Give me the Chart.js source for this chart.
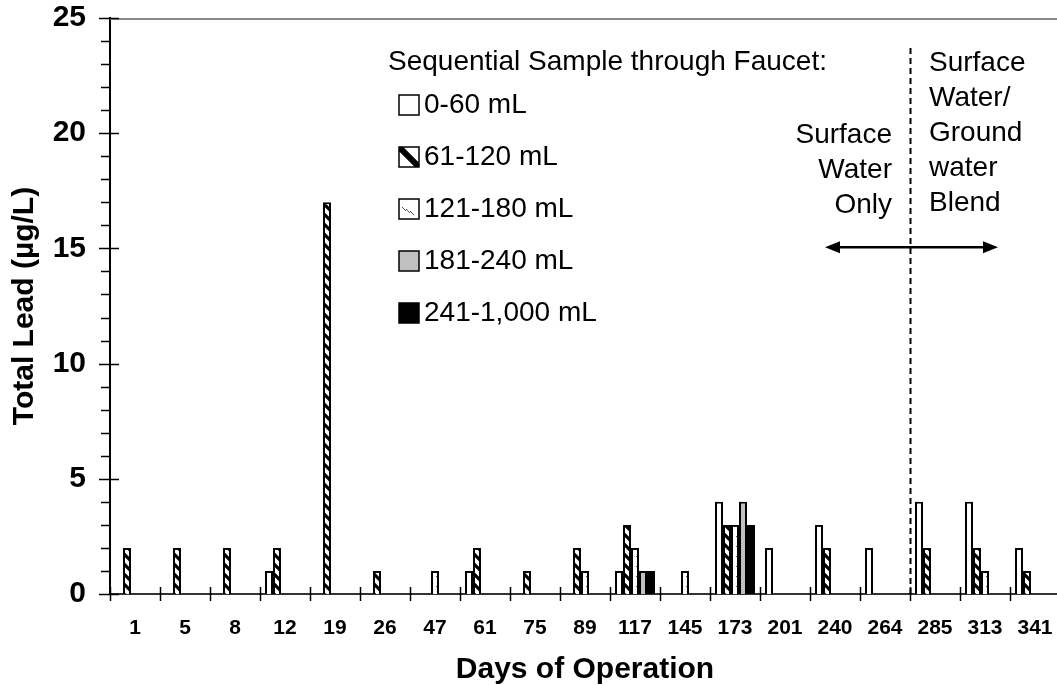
<!DOCTYPE html>
<html>
<head>
<meta charset="utf-8">
<title>Total Lead by Days of Operation</title>
<script src="https://cdn.jsdelivr.net/npm/chart.js@4.4.1/dist/chart.umd.min.js"></script>
<style>
  body { margin: 0; background: #fff; overflow: hidden; }
  #wrap { width: 1057px; height: 685px; overflow: hidden; }
</style>
</head>
<body>
<div id="wrap"><canvas id="lead-chart" width="1080" height="685"></canvas></div>
<script>
// Days of operation (categories)
const days = ['1', '5', '8', '12', '19', '26', '47', '61', '75', '89', '117', '145', '173', '201', '240', '264', '285', '313', '341'];

// Total lead (ug/L) per sequential sample volume, null = no bar
const lead0to60 =    [null, null, null, 1, null, null, null, 1, null, null, 1, null, 4, 2, 3, 2, 4, 4, 2];
const lead61to120 =  [2, 2, 2, 2, 17, 1, null, 2, 1, 2, 3, null, 3, null, 2, null, 2, 2, 1];
const lead121to180 = [null, null, null, null, null, null, 1, null, null, 1, 2, 1, 3, null, null, null, null, 1, null];
const lead181to240 = [null, null, null, null, null, null, null, null, null, null, 1, null, 4, null, null, null, null, null, null];
const lead241to1000 = [null, null, null, null, null, null, null, null, null, null, 1, null, 3, null, null, null, null, null, null];

const seriesNames = ['0-60 mL', '61-120 mL', '121-180 mL', '181-240 mL', '241-1,000 mL'];
const yTicks = [0, 5, 10, 15, 20, 25];

const FONT = "'Liberation Sans', Arial, sans-serif";
const canvas = document.getElementById('lead-chart');
const ctx = canvas.getContext('2d');

// small repeating fills that look like the excel hatch patterns
function makePattern(kind, size) {
    const c = document.createElement('canvas');
    c.width = size;
    c.height = size;
    const g = c.getContext('2d');
    g.fillStyle = '#fff';
    g.fillRect(0, 0, size, size);
    if (kind === 'bold') {
        g.strokeStyle = '#000';
        g.lineWidth = size * 0.32;
        g.beginPath();
        g.moveTo(-3, -3); g.lineTo(size + 3, size + 3);
        g.moveTo(-3, size - 3); g.lineTo(3, size + 3);
        g.moveTo(size - 3, -3); g.lineTo(size + 3, 3);
        g.stroke();
    } else if (kind === 'dots') {
        g.fillStyle = '#555';
        const h = size / 2;
        g.fillRect(1, 1, 1, 1);
        g.fillRect(2, 2, 1, 1);
        g.fillRect(h + 1, h + 1, 1, 1);
        g.fillRect(h + 2, h + 2, 1, 1);
    }
    return ctx.createPattern(c, 'repeat');
}

const fills = ['#ffffff', makePattern('bold', 10), makePattern('dots', 10), '#c0c0c0', '#000000'];
const seriesData = [lead0to60, lead61to120, lead121to180, lead181to240, lead241to1000];

// legend keys are bigger, excel shows one wide stripe there
function drawKey(c, i, kx, ky, size) {
    c.fillStyle = i === 1 || i === 2 ? '#fff' : fills[i];
    c.fillRect(kx, ky, size, size);
    if (i === 1) {
        c.save();
        c.beginPath();
        c.rect(kx, ky, size, size);
        c.clip();
        c.strokeStyle = '#000';
        c.lineWidth = 6;
        c.beginPath();
        c.moveTo(kx, ky);
        c.lineTo(kx + size, ky + size);
        c.stroke();
        c.restore();
    } else if (i === 2) {
        c.fillStyle = '#555';
        for (let d = 0; d < 3; d++) {
            for (let k = 0; k < 4; k++) {
                c.fillRect(kx + 3 + d * 4 + k, ky + 8 + k + d * 2, 1, 1);
            }
        }
    }
    c.strokeStyle = '#000';
    c.lineWidth = 1.5;
    c.strokeRect(kx, ky, size, size);
}

// tick marks, top border, dashed divider, arrow, notes and legend
const extrasPlugin = {
    id: 'extras',
    afterDraw(chart) {
        const c = chart.ctx;
        const area = chart.chartArea;
        const x = chart.scales.x;
        const y = chart.scales.y;
        c.save();

        // top border
        c.strokeStyle = '#888';
        c.lineWidth = 2;
        c.beginPath();
        c.moveTo(area.left, area.top + 1);
        c.lineTo(area.right, area.top + 1);
        c.stroke();

        // y ticks: major cross the axis, minor outside
        c.strokeStyle = '#000';
        c.lineWidth = 1.5;
        for (let v = 0; v <= 25; v++) {
            const py = Math.round(y.getPixelForValue(v)) + 0.5;
            c.beginPath();
            if (v % 5 === 0) {
                c.moveTo(area.left - 11, py);
                c.lineTo(area.left + 9, py);
            } else {
                c.moveTo(area.left - 9, py);
                c.lineTo(area.left, py);
            }
            c.stroke();
        }

        // x ticks at category boundaries
        for (let i = 0; i <= days.length; i++) {
            const px = Math.round(x.getPixelForValue(i - 0.5)) + 0.5;
            c.beginPath();
            c.moveTo(px, area.bottom - 7);
            c.lineTo(px, area.bottom + 7);
            c.stroke();
        }

        // dashed divider between 264 and 285
        const divX = Math.round(x.getPixelForValue(15.5)) + 0.5;
        c.setLineDash([6, 4]);
        c.lineWidth = 2;
        c.beginPath();
        c.moveTo(divX, y.getPixelForValue(23.7));
        c.lineTo(divX, area.bottom);
        c.stroke();
        c.setLineDash([]);

        // double headed arrow
        const ay = y.getPixelForValue(15.05);
        const ax1 = x.getPixelForValue(13.8);
        const ax2 = x.getPixelForValue(17.26);
        c.lineWidth = 2.5;
        c.beginPath();
        c.moveTo(ax1 + 10, ay);
        c.lineTo(ax2 - 10, ay);
        c.stroke();
        c.fillStyle = '#000';
        c.beginPath();
        c.moveTo(ax1, ay); c.lineTo(ax1 + 15, ay - 6); c.lineTo(ax1 + 15, ay + 6);
        c.closePath(); c.fill();
        c.beginPath();
        c.moveTo(ax2, ay); c.lineTo(ax2 - 15, ay - 6); c.lineTo(ax2 - 15, ay + 6);
        c.closePath(); c.fill();

        // notes either side of the divider
        c.font = '28px ' + FONT;
        c.textBaseline = 'middle';
        c.textAlign = 'right';
        const leftNote = ['Surface', 'Water', 'Only'];
        const leftX = x.getPixelForValue(15.14);
        leftNote.forEach((t, i) => c.fillText(t, leftX, y.getPixelForValue(19.92) + i * 35));
        c.textAlign = 'left';
        const rightNote = ['Surface', 'Water/', 'Ground', 'water', 'Blend'];
        const rightX = x.getPixelForValue(15.88);
        rightNote.forEach((t, i) => c.fillText(t, rightX, y.getPixelForValue(23.05) + i * 35));

        // legend
        c.fillText('Sequential Sample through Faucet:', 388, 62);
        chart.data.datasets.forEach((ds, i) => {
            const cy = 105 + i * 52;
            drawKey(c, i, 399, cy - 10, 20);
            c.fillStyle = '#000';
            c.fillText(ds.label, 424, cy);
        });

        c.restore();
    }
};

new Chart(ctx, {
    type: 'bar',
    data: {
        labels: days,
        datasets: seriesData.map((d, i) => ({
            label: seriesNames[i],
            data: d,
            backgroundColor: fills[i],
            borderColor: '#000',
            borderWidth: 2,
            borderSkipped: 'bottom',
            categoryPercentage: 0.8,
            barPercentage: 1.0
        }))
    },
    options: {
        responsive: false,
        animation: false,
        devicePixelRatio: 1,
        layout: { padding: { top: 18, right: 20, left: 0, bottom: 0 } },
        plugins: {
            legend: { display: false },
            tooltip: { enabled: false }
        },
        scales: {
            x: {
                grid: { display: false },
                border: { display: true, color: '#333', width: 2 },
                ticks: {
                    color: '#000',
                    font: { family: FONT, size: 21, weight: 'bold' },
                    padding: 14,
                    maxRotation: 0,
                    autoSkip: false
                },
                title: {
                    display: true,
                    text: 'Days of Operation',
                    color: '#000',
                    font: { family: FONT, size: 30, weight: 'bold', lineHeight: 1 },
                    padding: { top: 0, bottom: 0 }
                },
                afterFit: s => {
                    s.height = 91;
                    s.paddingLeft = 0;
                    s.paddingRight = 0;
                }
            },
            y: {
                min: 0,
                max: 25,
                grid: { display: false },
                border: { display: true, color: '#000', width: 2 },
                afterBuildTicks: s => { s.ticks = yTicks.map(v => ({ value: v })); },
                ticks: {
                    color: '#000',
                    font: { family: FONT, size: 30, weight: 'bold' },
                    padding: 16
                },
                title: {
                    display: true,
                    text: 'Total Lead (\u00b5g/L)',
                    color: '#000',
                    font: { family: FONT, size: 30, weight: 'bold', lineHeight: 1.2 },
                    padding: { top: 7, bottom: 0 }
                },
                afterFit: s => {
                    s.width = 110;
                    s.paddingTop = 0;
                    s.paddingBottom = 0;
                }
            }
        }
    },
    plugins: [extrasPlugin]
});
</script>
</body>
</html>
